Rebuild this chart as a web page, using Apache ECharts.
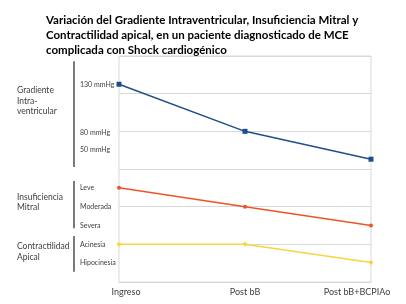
<!DOCTYPE html>
<html><head><meta charset="utf-8">
<script src="https://cdn.jsdelivr.net/npm/echarts@6/dist/echarts.min.js"></script>
<style>html,body{margin:0;padding:0;background:#fff}#c{width:406px;height:304px}</style>
</head><body><div id="c"></div>
<script>
const titleText = "Variación del Gradiente Intraventricular, Insuficiencia Mitral y\nContractilidad apical, en un paciente diagnosticado de MCE\ncomplicada con Shock cardiogénico";
const categories = ["Ingreso", "Post bB", "Post bB+BCPIAo"];
const gradiente = [5.25, 4.0, 3.26];
const insuficiencia = [2.5, 2.0, 1.5];
const contractilidad = [1.0, 1.0, 0.52];
const tickValues = [5.25, 3.95, 3.5, 2.5, 2.0, 1.5, 1.0, 0.5];
const tickLabels = ["130 mmHg", "80 mmHg", "50 mmHg", "Leve", "Moderada", "Severa", "Acinesia", "Hipocinesia"];
const groupNames = ["Gradiente\nIntra-\nventricular", "Insuficiencia\nMitral", "Contractilidad\nApical"];
const groupCenters = [4.8, 2.12, 0.8];
const groupRanges = [[5.86, 3.05], [2.68, 1.43], [1.22, 0.27]];

const chart = echarts.init(document.getElementById('c'));
const font = "Lato";
chart.setOption({
  animation: false,
  title: { text: titleText, left: 41, top: 8,
    textStyle: { fontFamily: font, fontSize: 11.5, fontWeight: 'bold', color: '#000', lineHeight: 15 } },
  grid: { left: 119, right: 35, top: 56, bottom: 22, show: true, borderColor: '#d9d9d9', borderWidth: 1 },
  xAxis: { type: 'category', data: categories, boundaryGap: false,
    axisLine: { lineStyle: { color: '#d9d9d9' } }, axisTick: { show: false },
    axisLabel: { margin: 6, fontFamily: font, fontSize: 9, color: '#404040',
      formatter: (v, i) => i === 0 ? '{a|' + v + '}' : (i === categories.length - 1 ? '{c|' + v + '}' : v),
      rich: { a: { padding: [0, 0, 0, 14], fontFamily: font, fontSize: 9, color: '#404040' },
              c: { padding: [0, 28, 0, 0], fontFamily: font, fontSize: 9, color: '#404040' } } } },
  yAxis: { type: 'value', min: 0, max: 6, interval: 1,
    axisLine: { show: false }, axisTick: { show: false },
    splitLine: { lineStyle: { color: '#d9d9d9' } },
    axisLabel: { customValues: tickValues, align: 'left', margin: 39,
      fontFamily: font, fontSize: 7, color: '#404040',
      formatter: v => { const i = tickValues.indexOf(v); return i >= 0 ? tickLabels[i] : ''; } } },
  series: [
    { type: 'line', data: gradiente, symbol: 'rect', symbolSize: 5,
      lineStyle: { color: '#1F4E8C', width: 1.5 }, itemStyle: { color: '#1F4E8C' } },
    { type: 'line', data: insuficiencia, symbol: 'circle', symbolSize: 4,
      lineStyle: { color: '#EC5428', width: 1.5 }, itemStyle: { color: '#EC5428' } },
    { type: 'line', data: contractilidad, symbol: 'diamond', symbolSize: 5,
      lineStyle: { color: '#F8D53A', width: 1.5 }, itemStyle: { color: '#F8D53A' } }
  ]
});
const gx = chart.convertToPixel({ gridIndex: 0 }, [0, 0])[0];
const graphics = [];
groupRanges.forEach(r => {
  const y1 = chart.convertToPixel({ yAxisIndex: 0 }, r[0]);
  const y2 = chart.convertToPixel({ yAxisIndex: 0 }, r[1]);
  graphics.push({ type: 'line', shape: { x1: gx - 45, y1: y1, x2: gx - 45, y2: y2 },
    style: { stroke: '#222', lineWidth: 1.2 } });
});
groupNames.forEach((n, i) => {
  const y = chart.convertToPixel({ yAxisIndex: 0 }, groupCenters[i]);
  graphics.push({ type: 'text', x: 17, y: y,
    style: { text: n, fontFamily: font, fontSize: 8.5, fill: '#404040', lineHeight: 10.5, verticalAlign: 'middle', align: 'left' } });
});
chart.setOption({ graphic: graphics });
</script></body></html>
